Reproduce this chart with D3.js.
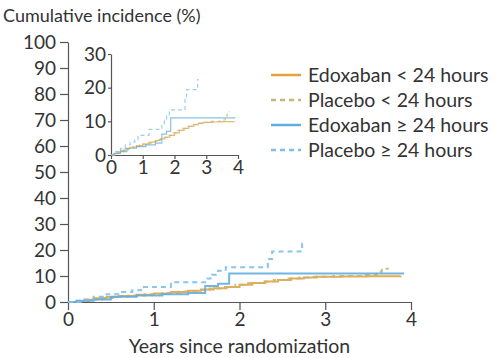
<!DOCTYPE html>
<html>
<head>
<meta charset="utf-8">
<script src="https://cdn.jsdelivr.net/npm/d3@7"></script>
<style>
  html, body { margin: 0; padding: 0; background: #fff; }
  svg { display: block; font-family: Lato, "Open Sans", sans-serif; }
</style>
</head>
<body>
<svg id="chart" width="497" height="358"></svg>
<script>
// Cumulative incidence step curves (years, %)
const edoxLt24Time  = [0, 0.1, 0.2, 0.3, 0.45, 0.6, 0.8, 1.0, 1.2, 1.4, 1.55, 1.7, 1.85, 2.0, 2.15, 2.3, 2.45, 2.6, 2.75, 2.9, 3.2, 3.5, 3.88];
const edoxLt24Value = [0, 0.4, 0.9, 1.4, 1.9, 2.3, 2.8, 3.3, 3.8, 4.3, 4.8, 5.3, 5.8, 6.6, 7.3, 7.9, 8.5, 9.0, 9.4, 9.7, 9.8, 9.9, 10.0];

const placLt24Time  = [0, 0.12, 0.25, 0.4, 0.55, 0.7, 0.9, 1.1, 1.3, 1.5, 1.65, 1.8, 1.95, 2.1, 2.25, 2.4, 2.55, 2.7, 2.85, 3.1, 3.45, 3.6, 3.66, 3.74];
const placLt24Value = [0, 0.5, 1.0, 1.5, 2.0, 2.5, 3.0, 3.5, 4.0, 4.6, 5.2, 5.8, 6.6, 7.3, 7.9, 8.5, 9.0, 9.4, 9.7, 10.0, 10.4, 11.6, 12.8, 12.8];

const edoxGe24Time  = [0, 0.1, 0.3, 0.5, 0.8, 1.1, 1.4, 1.6, 1.75, 1.88, 3.92];
const edoxGe24Value = [0, 0.5, 1.0, 2.0, 2.5, 3.0, 3.5, 6.2, 7.0, 11.0, 11.0];

const placGe24Time  = [0, 0.15, 0.3, 0.45, 0.6, 0.75, 0.85, 1.2, 1.6, 1.68, 1.75, 1.84, 2.33, 2.38, 2.73, 2.76];
const placGe24Value = [0, 1.0, 2.0, 3.0, 3.8, 4.5, 5.8, 7.6, 9.0, 10.5, 12.0, 13.4, 16.5, 19.4, 22.4, 22.4];

const seriesNames  = ["Edoxaban < 24 hours", "Placebo < 24 hours", "Edoxaban \u2265 24 hours", "Placebo \u2265 24 hours"];
const seriesColors = ["#e3a33a", "#c9b27c", "#62ade0", "#7dbfe9"];
const seriesDashed = [false, true, false, true];

const mainXTicks  = [0, 1, 2, 3, 4];
const mainYTicks  = [0, 10, 20, 30, 40, 50, 60, 70, 80, 90, 100];
const insetXTicks = [0, 1, 2, 3, 4];
const insetYTicks = [0, 10, 20, 30];

const yTitle = "Cumulative incidence (%)";
const xTitle = "Years since randomization";

const zip = (t, v) => t.map((d, i) => ({ t: d, v: v[i] }));
const series = [
  zip(edoxLt24Time, edoxLt24Value),
  zip(placLt24Time, placLt24Value),
  zip(edoxGe24Time, edoxGe24Value),
  zip(placGe24Time, placGe24Value)
];

const svg = d3.select("#chart");
const axisColor = "#555";
const textColor = "#333";

function styleAxis(g, fontSize) {
  g.selectAll("path.domain").attr("stroke", axisColor).attr("stroke-width", 1.2);
  g.selectAll(".tick line").attr("stroke", axisColor).attr("stroke-width", 1.2);
  g.selectAll(".tick text").attr("fill", textColor).style("font-size", fontSize + "px")
    .style("font-family", "Lato, 'Open Sans', sans-serif");
}

// ---- main panel ----
const x = d3.scaleLinear().domain([0, 4]).range([68, 411]);
const y = d3.scaleLinear().domain([0, 100]).range([302, 42]);

svg.append("g").attr("transform", `translate(0,${y(0)})`)
  .call(d3.axisBottom(x).tickValues(mainXTicks).tickFormat(d3.format("d")).tickSize(8).tickSizeOuter(0).tickPadding(3))
  .call(g => styleAxis(g, 19));

svg.append("g").attr("transform", `translate(${x(0)},0)`)
  .call(d3.axisLeft(y).tickValues(mainYTicks).tickFormat(d3.format("d")).tickSize(8).tickSizeOuter(0).tickPadding(4))
  .call(g => styleAxis(g, 19));

const mainLine = d3.line().x(d => x(d.t)).y(d => y(d.v)).curve(d3.curveStepAfter);
svg.append("g").selectAll("path").data(series).join("path")
  .attr("d", mainLine)
  .attr("fill", "none")
  .attr("stroke", (d, i) => seriesColors[i])
  .attr("stroke-width", 2)
  .attr("stroke-opacity", 0.9)
  .attr("stroke-dasharray", (d, i) => seriesDashed[i] ? "5,4" : null);

// ---- inset panel ----
const xi = d3.scaleLinear().domain([0, 4]).range([111, 238]);
const yi = d3.scaleLinear().domain([0, 30]).range([155, 54]);

svg.append("g").attr("transform", `translate(0,${yi(0)})`)
  .call(d3.axisBottom(xi).tickValues(insetXTicks).tickFormat(d3.format("d")).tickSize(4).tickSizeOuter(0).tickPadding(2))
  .call(g => styleAxis(g, 19));

svg.append("g").attr("transform", `translate(${xi(0)},0)`)
  .call(d3.axisLeft(yi).tickValues(insetYTicks).tickFormat(d3.format("d")).tickSize(3).tickSizeOuter(0).tickPadding(2))
  .call(g => styleAxis(g, 19));

const insetLine = d3.line().x(d => xi(d.t)).y(d => yi(d.v)).curve(d3.curveStepAfter);
svg.append("g").selectAll("path").data(series).join("path")
  .attr("d", insetLine)
  .attr("fill", "none")
  .attr("stroke", (d, i) => seriesColors[i])
  .attr("stroke-width", 1.2)
  .attr("stroke-opacity", 0.75)
  .attr("stroke-dasharray", (d, i) => seriesDashed[i] ? "4,3" : null);

// ---- titles ----
svg.append("text").attr("x", 3).attr("y", 22)
  .attr("fill", textColor).style("font-size", "18px").text(yTitle);

svg.append("text").attr("x", (x(0) + x(4)) / 2).attr("y", 353)
  .attr("text-anchor", "middle")
  .attr("fill", textColor).style("font-size", "19.5px").text(xTitle);

// ---- legend ----
const legend = svg.append("g").selectAll("g").data(seriesNames).join("g")
  .attr("transform", (d, i) => `translate(271,${75 + i * 25})`);
legend.append("line")
  .attr("x1", 0).attr("x2", 30).attr("y1", 0).attr("y2", 0)
  .attr("stroke", (d, i) => seriesColors[i])
  .attr("stroke-width", 2.5)
  .attr("stroke-dasharray", (d, i) => seriesDashed[i] ? "5,4" : null);
legend.append("text")
  .attr("x", 37).attr("y", 0).attr("dy", "0.35em")
  .attr("fill", textColor).style("font-size", "19.5px")
  .text(d => d);
</script>
</body>
</html>
